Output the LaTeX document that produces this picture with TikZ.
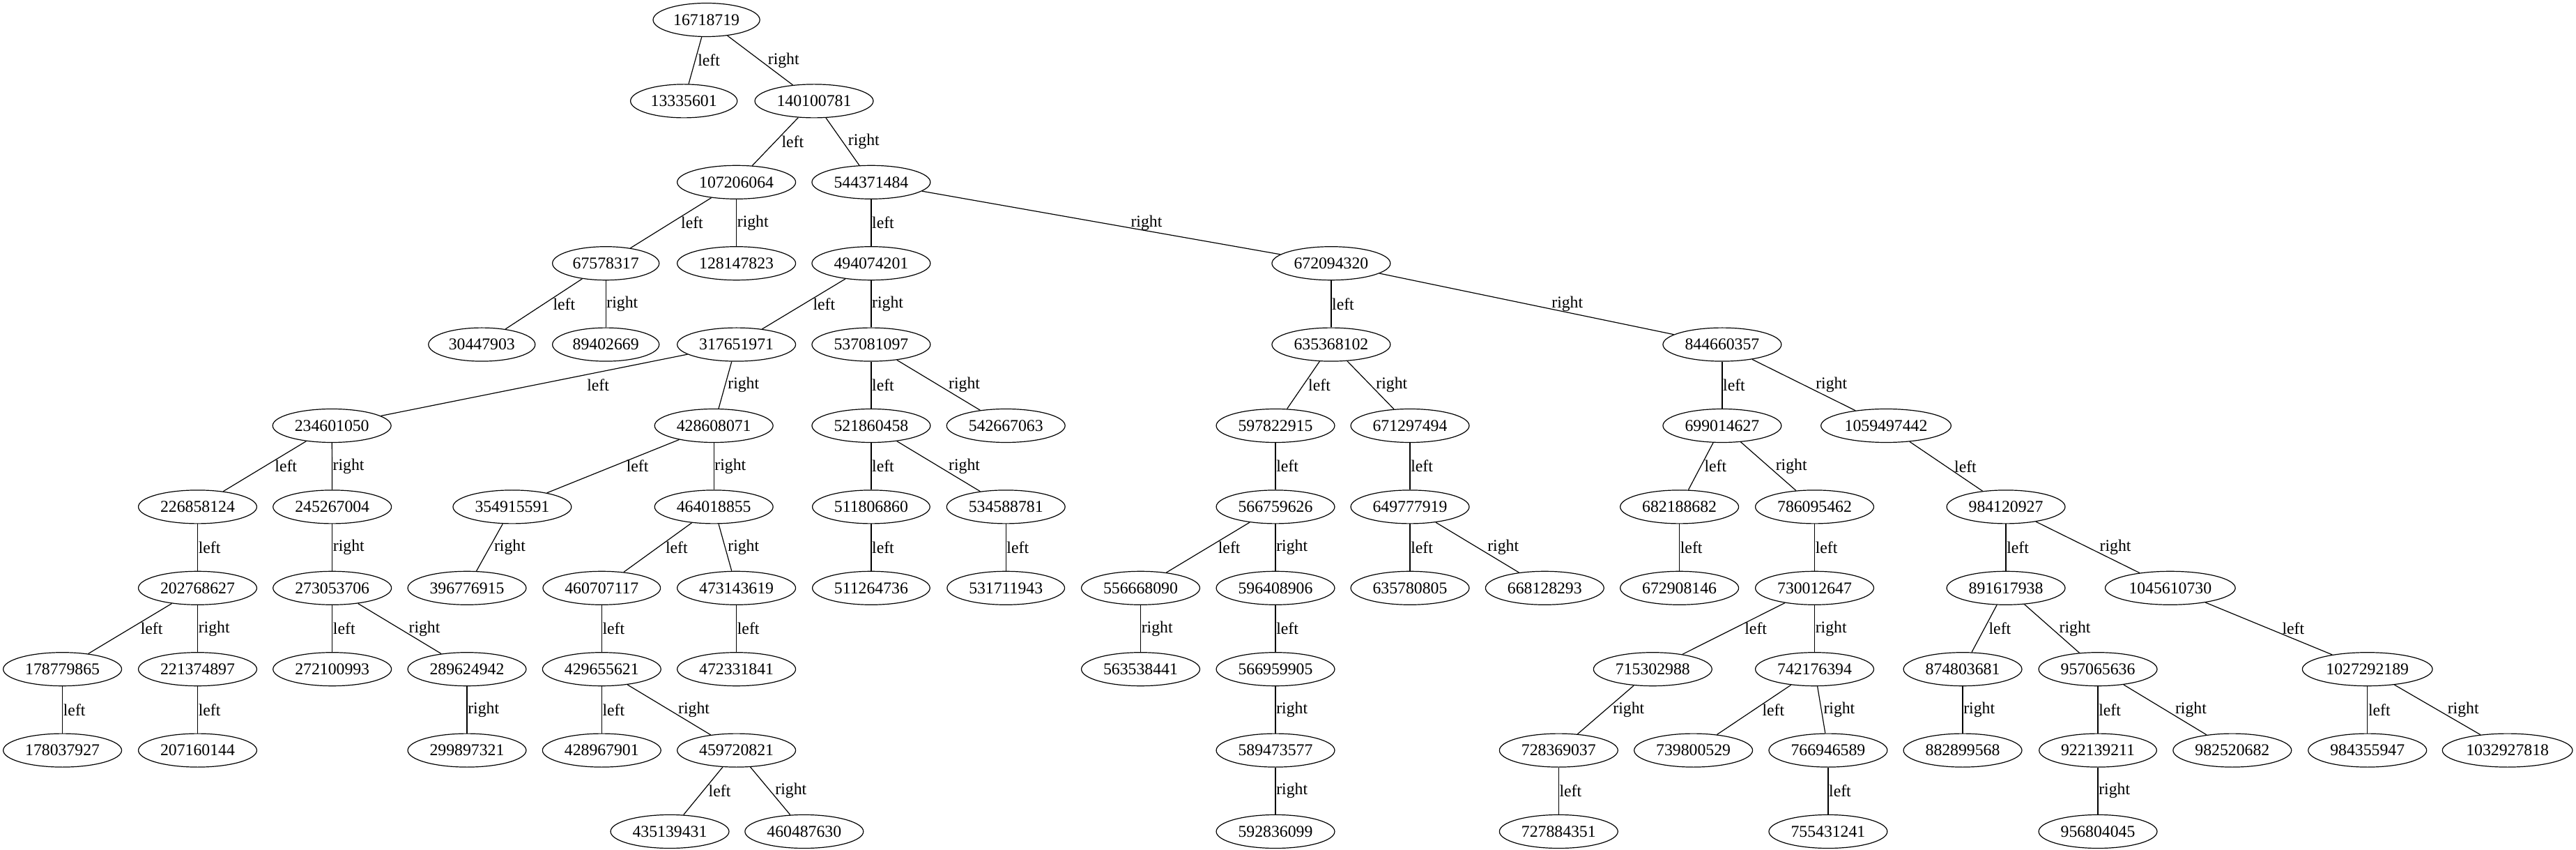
\documentclass[tikz,border=0pt]{standalone}
\usepackage{fontspec}
\setmainfont{Liberation Serif}
\usetikzlibrary{shapes.geometric}
\tikzset{
  tree key/.style={ellipse, draw, line width=0.9pt, minimum height=36pt, inner xsep=5pt, inner ysep=2pt, font=\fontsize{17.8}{20}\selectfont},
  link/.style={line width=0.9pt},
  lbl/.style={midway, anchor=west, inner sep=0.5pt, font=\fontsize{17.8}{20}\selectfont},
}
\begin{document}
\begin{tikzpicture}[x=0.75pt, y=-87.3pt]
  \useasboundingbox (0,-0.2448) rectangle (3696,10.2277);

  % Keys, one row per depth
  \node[tree key] (n16718719) at (1013.6,0) {16718719};

  \node[tree key] (n13335601) at (981.2,1) {13335601};
  \node[tree key] (n140100781) at (1168,1) {140100781};

  \node[tree key] (n107206064) at (1056.6,2) {107206064};
  \node[tree key] (n544371484) at (1249.9,2) {544371484};

  \node[tree key] (n67578317) at (869.2,3) {67578317};
  \node[tree key] (n128147823) at (1056.6,3) {128147823};
  \node[tree key] (n494074201) at (1249.9,3) {494074201};
  \node[tree key] (n672094320) at (1909.9,3) {672094320};

  \node[tree key] (n30447903) at (691.3,4) {30447903};
  \node[tree key] (n89402669) at (869.2,4) {89402669};
  \node[tree key] (n317651971) at (1056.6,4) {317651971};
  \node[tree key] (n537081097) at (1249.9,4) {537081097};
  \node[tree key] (n635368102) at (1909.9,4) {635368102};
  \node[tree key] (n844660357) at (2470.9,4) {844660357};

  \node[tree key] (n234601050) at (476.2,5) {234601050};
  \node[tree key] (n428608071) at (1024.2,5) {428608071};
  \node[tree key] (n521860458) at (1249.9,5) {521860458};
  \node[tree key] (n542667063) at (1443.2,5) {542667063};
  \node[tree key] (n597822915) at (1830,5) {597822915};
  \node[tree key] (n671297494) at (2023,5) {671297494};
  \node[tree key] (n699014627) at (2470.9,5) {699014627};
  \node[tree key] (n1059497442) at (2706,5) {1059497442};

  \node[tree key] (n226858124) at (283.5,6) {226858124};
  \node[tree key] (n245267004) at (476.7,6) {245267004};
  \node[tree key] (n354915591) at (734.9,6) {354915591};
  \node[tree key] (n464018855) at (1024.2,6) {464018855};
  \node[tree key] (n511806860) at (1249.9,6) {511806860};
  \node[tree key] (n534588781) at (1443.2,6) {534588781};
  \node[tree key] (n566759626) at (1830,6) {566759626};
  \node[tree key] (n649777919) at (2023,6) {649777919};
  \node[tree key] (n682188682) at (2409.6,6) {682188682};
  \node[tree key] (n786095462) at (2603.5,6) {786095462};
  \node[tree key] (n984120927) at (2878,6) {984120927};

  \node[tree key] (n202768627) at (283.5,7) {202768627};
  \node[tree key] (n273053706) at (476.7,7) {273053706};
  \node[tree key] (n396776915) at (670,7) {396776915};
  \node[tree key] (n460707117) at (863.3,7) {460707117};
  \node[tree key] (n473143619) at (1056.6,7) {473143619};
  \node[tree key] (n511264736) at (1249.9,7) {511264736};
  \node[tree key] (n531711943) at (1443.2,7) {531711943};
  \node[tree key] (n556668090) at (1636.5,7) {556668090};
  \node[tree key] (n596408906) at (1830,7) {596408906};
  \node[tree key] (n635780805) at (2023,7) {635780805};
  \node[tree key] (n668128293) at (2216.3,7) {668128293};
  \node[tree key] (n672908146) at (2409.6,7) {672908146};
  \node[tree key] (n730012647) at (2603.5,7) {730012647};
  \node[tree key] (n891617938) at (2878,7) {891617938};
  \node[tree key] (n1045610730) at (3113.8,7) {1045610730};

  \node[tree key] (n178779865) at (89.6,8) {178779865};
  \node[tree key] (n221374897) at (283.5,8) {221374897};
  \node[tree key] (n272100993) at (476.7,8) {272100993};
  \node[tree key] (n289624942) at (670,8) {289624942};
  \node[tree key] (n429655621) at (863.3,8) {429655621};
  \node[tree key] (n472331841) at (1056.6,8) {472331841};
  \node[tree key] (n563538441) at (1636.5,8) {563538441};
  \node[tree key] (n566959905) at (1830,8) {566959905};
  \node[tree key] (n715302988) at (2371.3,8) {715302988};
  \node[tree key] (n742176394) at (2603.5,8) {742176394};
  \node[tree key] (n874803681) at (2816,8) {874803681};
  \node[tree key] (n957065636) at (3010,8) {957065636};
  \node[tree key] (n1027292189) at (3396.7,8) {1027292189};

  \node[tree key] (n178037927) at (89.6,9) {178037927};
  \node[tree key] (n207160144) at (283.5,9) {207160144};
  \node[tree key] (n299897321) at (670,9) {299897321};
  \node[tree key] (n428967901) at (863.3,9) {428967901};
  \node[tree key] (n459720821) at (1056.6,9) {459720821};
  \node[tree key] (n589473577) at (1830,9) {589473577};
  \node[tree key] (n728369037) at (2236.3,9) {728369037};
  \node[tree key] (n739800529) at (2429.6,9) {739800529};
  \node[tree key] (n766946589) at (2622.9,9) {766946589};
  \node[tree key] (n882899568) at (2816,9) {882899568};
  \node[tree key] (n922139211) at (3010,9) {922139211};
  \node[tree key] (n982520682) at (3202.8,9) {982520682};
  \node[tree key] (n984355947) at (3396.7,9) {984355947};
  \node[tree key] (n1032927818) at (3597.6,9) {1032927818};

  \node[tree key] (n435139431) at (961,10) {435139431};
  \node[tree key] (n460487630) at (1153.8,10) {460487630};
  \node[tree key] (n592836099) at (1830,10) {592836099};
  \node[tree key] (n727884351) at (2236.3,10) {727884351};
  \node[tree key] (n755431241) at (2622.9,10) {755431241};
  \node[tree key] (n956804045) at (3010,10) {956804045};

  % Child links
  \draw[link] (n16718719) -- (n13335601) node[lbl, xshift=2pt] {left};
  \draw[link] (n16718719) -- (n140100781) node[lbl, xshift=7.5pt] {right};
  \draw[link] (n140100781) -- (n107206064) node[lbl, xshift=6pt] {left};
  \draw[link] (n140100781) -- (n544371484) node[lbl, xshift=5pt] {right};
  \draw[link] (n107206064) -- (n67578317) node[lbl, xshift=10pt] {left};
  \draw[link] (n107206064) -- (n128147823) node[lbl] {right};
  \draw[link] (n544371484) -- (n494074201) node[lbl] {left};
  \draw[link] (n544371484) -- (n672094320) node[lbl, xshift=31pt] {right};
  \draw[link] (n67578317) -- (n30447903) node[lbl, xshift=9pt] {left};
  \draw[link] (n67578317) -- (n89402669) node[lbl] {right};
  \draw[link] (n494074201) -- (n317651971) node[lbl, xshift=9pt] {left};
  \draw[link] (n494074201) -- (n537081097) node[lbl] {right};
  \draw[link] (n672094320) -- (n635368102) node[lbl] {left};
  \draw[link] (n672094320) -- (n844660357) node[lbl, xshift=26pt] {right};
  \draw[link] (n317651971) -- (n234601050) node[lbl, xshift=56pt] {left};
  \draw[link] (n317651971) -- (n428608071) node[lbl, xshift=2pt] {right};
  \draw[link] (n537081097) -- (n521860458) node[lbl] {left};
  \draw[link] (n537081097) -- (n542667063) node[lbl, xshift=10pt] {right};
  \draw[link] (n635368102) -- (n597822915) node[lbl, xshift=4.5pt] {left};
  \draw[link] (n635368102) -- (n671297494) node[lbl, xshift=5pt] {right};
  \draw[link] (n844660357) -- (n699014627) node[lbl] {left};
  \draw[link] (n844660357) -- (n1059497442) node[lbl, xshift=12pt] {right};
  \draw[link] (n234601050) -- (n226858124) node[lbl, xshift=10pt] {left};
  \draw[link] (n234601050) -- (n245267004) node[lbl] {right};
  \draw[link] (n428608071) -- (n354915591) node[lbl, xshift=13.5pt] {left};
  \draw[link] (n428608071) -- (n464018855) node[lbl] {right};
  \draw[link] (n521860458) -- (n511806860) node[lbl] {left};
  \draw[link] (n521860458) -- (n534588781) node[lbl, xshift=10pt] {right};
  \draw[link] (n597822915) -- (n566759626) node[lbl] {left};
  \draw[link] (n671297494) -- (n649777919) node[lbl] {left};
  \draw[link] (n699014627) -- (n682188682) node[lbl, xshift=3pt] {left};
  \draw[link] (n699014627) -- (n786095462) node[lbl, xshift=7pt] {right};
  \draw[link] (n1059497442) -- (n984120927) node[lbl, xshift=8pt] {left};
  \draw[link] (n226858124) -- (n202768627) node[lbl] {left};
  \draw[link] (n245267004) -- (n273053706) node[lbl] {right};
  \draw[link] (n354915591) -- (n396776915) node[lbl, xshift=4pt] {right};
  \draw[link] (n464018855) -- (n460707117) node[lbl, xshift=7.5pt] {left};
  \draw[link] (n464018855) -- (n473143619) node[lbl, xshift=2pt] {right};
  \draw[link] (n511806860) -- (n511264736) node[lbl] {left};
  \draw[link] (n534588781) -- (n531711943) node[lbl] {left};
  \draw[link] (n566759626) -- (n556668090) node[lbl, xshift=10pt] {left};
  \draw[link] (n566759626) -- (n596408906) node[lbl] {right};
  \draw[link] (n649777919) -- (n635780805) node[lbl] {left};
  \draw[link] (n649777919) -- (n668128293) node[lbl, xshift=10pt] {right};
  \draw[link] (n682188682) -- (n672908146) node[lbl] {left};
  \draw[link] (n786095462) -- (n730012647) node[lbl] {left};
  \draw[link] (n984120927) -- (n891617938) node[lbl] {left};
  \draw[link] (n984120927) -- (n1045610730) node[lbl, xshift=12pt] {right};
  \draw[link] (n202768627) -- (n178779865) node[lbl, xshift=10.5pt] {left};
  \draw[link] (n202768627) -- (n221374897) node[lbl] {right};
  \draw[link] (n273053706) -- (n272100993) node[lbl] {left};
  \draw[link] (n273053706) -- (n289624942) node[lbl, xshift=9pt] {right};
  \draw[link] (n460707117) -- (n429655621) node[lbl] {left};
  \draw[link] (n473143619) -- (n472331841) node[lbl] {left};
  \draw[link] (n556668090) -- (n563538441) node[lbl] {right};
  \draw[link] (n596408906) -- (n566959905) node[lbl] {left};
  \draw[link] (n730012647) -- (n715302988) node[lbl, xshift=11pt] {left};
  \draw[link] (n730012647) -- (n742176394) node[lbl] {right};
  \draw[link] (n891617938) -- (n874803681) node[lbl, xshift=4pt] {left};
  \draw[link] (n891617938) -- (n957065636) node[lbl, xshift=7pt] {right};
  \draw[link] (n1045610730) -- (n1027292189) node[lbl, xshift=13.5pt] {left};
  \draw[link] (n178779865) -- (n178037927) node[lbl] {left};
  \draw[link] (n221374897) -- (n207160144) node[lbl] {left};
  \draw[link] (n289624942) -- (n299897321) node[lbl] {right};
  \draw[link] (n429655621) -- (n428967901) node[lbl] {left};
  \draw[link] (n429655621) -- (n459720821) node[lbl, xshift=9pt] {right};
  \draw[link] (n566959905) -- (n589473577) node[lbl] {right};
  \draw[link] (n715302988) -- (n728369037) node[lbl, xshift=7pt] {right};
  \draw[link] (n742176394) -- (n739800529) node[lbl, xshift=8pt] {left};
  \draw[link] (n742176394) -- (n766946589) node[lbl, xshift=1.5pt] {right};
  \draw[link] (n874803681) -- (n882899568) node[lbl] {right};
  \draw[link] (n957065636) -- (n922139211) node[lbl] {left};
  \draw[link] (n957065636) -- (n982520682) node[lbl, xshift=10pt] {right};
  \draw[link] (n1027292189) -- (n984355947) node[lbl] {left};
  \draw[link] (n1027292189) -- (n1032927818) node[lbl, xshift=10pt] {right};
  \draw[link] (n459720821) -- (n435139431) node[lbl, xshift=5pt] {left};
  \draw[link] (n459720821) -- (n460487630) node[lbl, xshift=4.5pt] {right};
  \draw[link] (n589473577) -- (n592836099) node[lbl] {right};
  \draw[link] (n728369037) -- (n727884351) node[lbl] {left};
  \draw[link] (n766946589) -- (n755431241) node[lbl] {left};
  \draw[link] (n922139211) -- (n956804045) node[lbl] {right};
\end{tikzpicture}
\end{document}
